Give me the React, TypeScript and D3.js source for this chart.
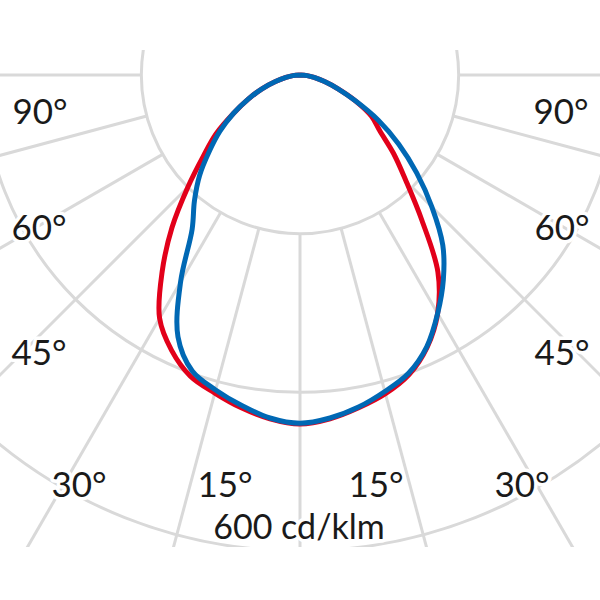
import React, { useRef, useEffect } from "react";
import * as d3 from "d3";

// angles measured from nadir (0° = straight down), 5° steps
const angles = [0, 5, 10, 15, 20, 25, 30, 35, 40, 45, 50, 55, 60, 65, 70, 75, 80, 85, 90];

// luminous intensity in cd/klm
const blueLeft = [439, 434, 423, 411, 397, 364, 301, 237, 207, 179, 149, 123, 97, 72, 51, 32, 18, 9, 0];
const blueRight = [439, 434, 425, 413, 400, 378, 347, 315, 280, 235, 192, 152, 114, 77, 51, 32, 18, 9, 0];
const redLeft = [440, 435, 426, 415, 404, 383, 354, 303, 251, 200, 159, 129, 97, 72, 51, 32, 18, 9, 0];
const redRight = [440, 435, 426, 416, 402, 379, 347, 303, 239, 189, 154, 123, 104, 77, 51, 32, 18, 9, 0];

const gridValues = [200, 400, 600];
const rayAngles = [0, 15, 30, 45, 60, 75, 90];
const angleLabels = ["90°", "60°", "45°", "30°", "15°"];
const unitLabel = "600 cd/klm";

const BLUE = "#0068b4";
const RED = "#e2001a";
const GRID = "#d9d9d9";
const FONT = "Lato, 'Open Sans', sans-serif";

function drawChart(div: HTMLDivElement, width: number, height: number) {
  d3.select(div).selectAll("*").remove();
  const cx = 300;
  const cy = 75;

  const svg = d3
    .select(div)
    .append("svg")
    .attr("width", width)
    .attr("height", height)
    .style("position", "absolute")
    .style("left", "0px")
    .style("top", "0px")
    .style("background", "#fff");

  // radius scale, cd/klm -> px
  const r = d3.scaleLinear().domain([0, 600]).range([0, 476]);

  svg
    .append("defs")
    .append("clipPath")
    .attr("id", "gridClip")
    .append("rect")
    .attr("x", 0)
    .attr("y", 50)
    .attr("width", width)
    .attr("height", 497);

  // clip on the outer group (page coords), transform on the inner one
  const grid = svg
    .append("g")
    .attr("clip-path", "url(#gridClip)")
    .append("g")
    .attr("transform", `translate(${cx},${cy})`)
    .attr("fill", "none")
    .attr("stroke", GRID)
    .attr("stroke-width", 3);

  grid
    .selectAll("circle")
    .data(gridValues)
    .enter()
    .append("circle")
    .attr("r", (d) => r(d));

  // rays on both sides, starting at the inner ring
  const rays: number[] = [];
  rayAngles.forEach((a) => {
    rays.push(a);
    if (a !== 0) rays.push(-a);
  });
  grid
    .selectAll("line")
    .data(rays)
    .enter()
    .append("line")
    .attr("x1", (d) => r(gridValues[0]) * Math.sin((d * Math.PI) / 180))
    .attr("y1", (d) => r(gridValues[0]) * Math.cos((d * Math.PI) / 180))
    .attr("x2", (d) => r(900) * Math.sin((d * Math.PI) / 180))
    .attr("y2", (d) => r(900) * Math.cos((d * Math.PI) / 180));

  // curves
  const radial = d3
    .lineRadial<[number, number]>()
    .angle((d) => d[0])
    .radius((d) => r(d[1]))
    .curve(d3.curveCatmullRom.alpha(0.5));

  function points(left: number[], right: number[]): [number, number][] {
    const L = angles
      .map((a, i) => [Math.PI + (a * Math.PI) / 180, left[i]] as [number, number])
      .reverse();
    const R = angles
      .slice(1)
      .map((a, i) => [Math.PI - (a * Math.PI) / 180, right[i + 1]] as [number, number]);
    return [...L, ...R];
  }

  const curves = svg.append("g").attr("transform", `translate(${cx},${cy})`);
  curves
    .append("path")
    .attr("d", radial(points(redLeft, redRight)))
    .attr("fill", "none")
    .attr("stroke", RED)
    .attr("stroke-width", 5)
    .attr("stroke-linejoin", "round");
  curves
    .append("path")
    .attr("d", radial(points(blueLeft, blueRight)))
    .attr("fill", "none")
    .attr("stroke", BLUE)
    .attr("stroke-width", 5)
    .attr("stroke-linejoin", "round");

  // labels (fixed layout spots, left side mirrored to the right)
  const labelSpots = [
    { x: 40, y: 124 },
    { x: 39, y: 240 },
    { x: 39, y: 365 },
    { x: 79, y: 497 },
    { x: 225, y: 497 },
  ];
  const labels = svg
    .append("g")
    .attr("font-family", FONT)
    .attr("font-size", 35)
    .attr("text-anchor", "middle")
    .attr("fill", "#1a1a1a")
    .attr("stroke", "#fff")
    .attr("stroke-width", 7)
    .attr("stroke-linejoin", "round")
    .style("paint-order", "stroke");

  angleLabels.forEach((t, i) => {
    const p = labelSpots[i];
    labels.append("text").attr("x", p.x).attr("y", p.y).text(t);
    labels
      .append("text")
      .attr("x", 2 * cx - p.x + 1)
      .attr("y", p.y)
      .text(t);
  });
  labels
    .append("text")
    .attr("x", 299)
    .attr("y", 539)
    .attr("font-size", 34)
    .text(unitLabel);
}

const App: React.FunctionComponent = function () {
  const ref = useRef<HTMLDivElement>(null);

  useEffect(() => {
    if (ref.current == null) {
      return;
    }
    drawChart(ref.current, 600, 600);
  }, []);

  return <div ref={ref}></div>;
};

export default App;
